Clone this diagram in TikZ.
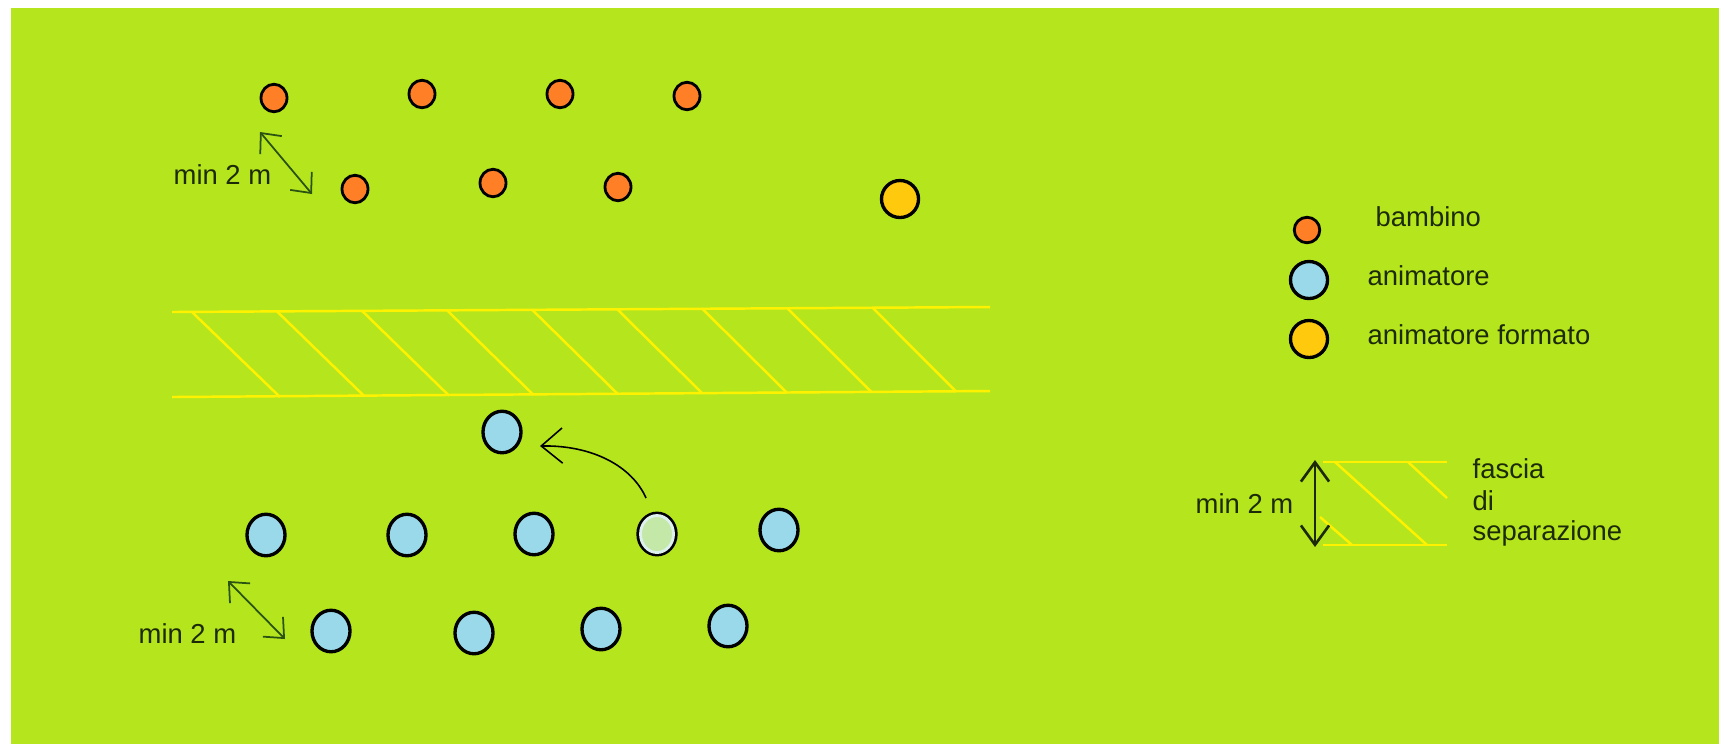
\documentclass[tikz,border=0pt]{standalone}
\usepackage{fontspec}
\setmainfont{Liberation Sans}
\usetikzlibrary{arrows.meta,shapes.geometric}
\definecolor{bg}{HTML}{B5E61D}
\definecolor{kid}{HTML}{FF7F27}
\definecolor{anim}{HTML}{99D9EA}
\definecolor{form}{HTML}{FFC90E}
\definecolor{bandcol}{HTML}{FFF200}
\definecolor{ink}{HTML}{1C2A08}
\definecolor{arr}{HTML}{2A5212}
\definecolor{pale}{HTML}{C4E8A8}
\definecolor{ring}{HTML}{DDF2EE}
\begin{document}
\begin{tikzpicture}[x=0.01cm,y=-0.01cm,
  dot/.style={ellipse,draw=black,line width=0.95pt,inner sep=0pt},
  kidnode/.style={dot,line width=0.8pt,fill=kid,minimum width=0.26cm,minimum height=0.275cm},
  animnode/.style={dot,fill=anim,minimum width=0.38cm,minimum height=0.415cm},
  formnode/.style={dot,fill=form,minimum width=0.37cm,minimum height=0.37cm},
  lbl/.style={text=ink,font=\fontsize{7.8}{9}\selectfont,inner sep=0pt,anchor=base west},
  bandline/.style={draw=bandcol,line width=0.7pt},
  distarrow/.style={draw=arr,line width=0.5pt,{Straight Barb[length=4.5pt,width=8pt]}-{Straight Barb[length=4.5pt,width=8pt]}},
  movearrow/.style={draw=black,line width=0.45pt,-{Straight Barb[length=6pt,width=10pt]}},
  legarrow/.style={draw=ink,line width=0.75pt,{Straight Barb[length=5.5pt,width=8pt]}-{Straight Barb[length=5.5pt,width=8pt]}}
]
\useasboundingbox (0,0) rectangle (1719,744);
\fill[white] (0,0) rectangle (1719,744);
\fill[bg] (11,8) rectangle (1719,744);

% children
\node[kidnode] (k1) at (274,98) {};
\node[kidnode] (k2) at (422,94) {};
\node[kidnode] (k3) at (560,94) {};
\node[kidnode] (k4) at (687,96) {};
\node[kidnode] (k5) at (355,189) {};
\node[kidnode] (k6) at (493,183) {};
\node[kidnode] (k7) at (618,187) {};
\node[formnode] (f1) at (900,199) {};

% distance top
\coordinate (d1a) at (260,132);
\coordinate (d1b) at (312,194);
\draw[distarrow] (d1a) -- (d1b);
\node[lbl] (t1) at (173,184) {min 2 m};

% separation band
\coordinate (bt1) at (172,312);
\coordinate (bt2) at (990,307);
\coordinate (bb1) at (172,397);
\coordinate (bb2) at (990,391);
\draw[bandline] (bt1) -- (bt2);
\draw[bandline] (bb1) -- (bb2);
\foreach \k in {0,...,8}{
  \draw[bandline] ({192+85*\k},{312-0.6*\k}) -- ({280+84.5*\k},{397-0.7*\k});
}

% animators
\node[animnode] (a0) at (502,432) {};
\node[animnode] (a1) at (266,535) {};
\node[animnode] (a2) at (407,535) {};
\node[animnode] (a3) at (534,534) {};
\node[animnode,fill=pale] (a4) at (657,534) {};
\draw[ring,line width=0.8pt] (a4.center) ellipse [x radius=0.165cm, y radius=0.185cm];
\node[animnode] (a5) at (779,530) {};
\node[animnode] (a6) at (331,631) {};
\node[animnode] (a7) at (474,633) {};
\node[animnode] (a8) at (601,629) {};
\node[animnode] (a9) at (728,626) {};

% move arrow
\coordinate (ms) at (646,498);
\coordinate (me) at (540,446);
\draw[movearrow] (ms) .. controls (632,466) and (592,445) .. (me);

% distance bottom
\coordinate (d2a) at (228,581);
\coordinate (d2b) at (285,639);
\draw[distarrow] (d2a) -- (d2b);
\node[lbl] (t2) at (138,643) {min 2 m};

% legend
\node[dot,line width=0.8pt,fill=kid,minimum size=0.255cm] (lk) at (1307,230) {};
\node[lbl] (lkt) at (1375,226) {bambino};
\node[dot,fill=anim,minimum size=0.37cm] (la) at (1309,280) {};
\node[lbl] (lat) at (1367,285) {animatore};
\node[dot,fill=form,minimum size=0.37cm] (lf) at (1309,339) {};
\node[lbl] (lft) at (1367,344) {animatore formato};

% legend band
\coordinate (lt1) at (1323,462);
\coordinate (lt2) at (1447,462);
\coordinate (lb1) at (1323,545);
\coordinate (lb2) at (1447,545);
\draw[bandline] (lt1) -- (lt2);
\draw[bandline] (lb1) -- (lb2);
\draw[bandline] (1335,462) -- (1427,545);
\draw[bandline] (1408,462) -- (1447,498);
\draw[bandline] (1320,517) -- (1352,545);
\coordinate (la1) at (1315,460);
\coordinate (la2) at (1315,547);
\draw[legarrow] (la1) -- (la2);
\node[lbl] (lmt) at (1195,513) {min 2 m};
\node[lbl] (lf1) at (1472,478) {fascia};
\node[lbl] (lf2) at (1472,510) {di};
\node[lbl] (lf3) at (1472,540) {separazione};
\end{tikzpicture}
\end{document}
